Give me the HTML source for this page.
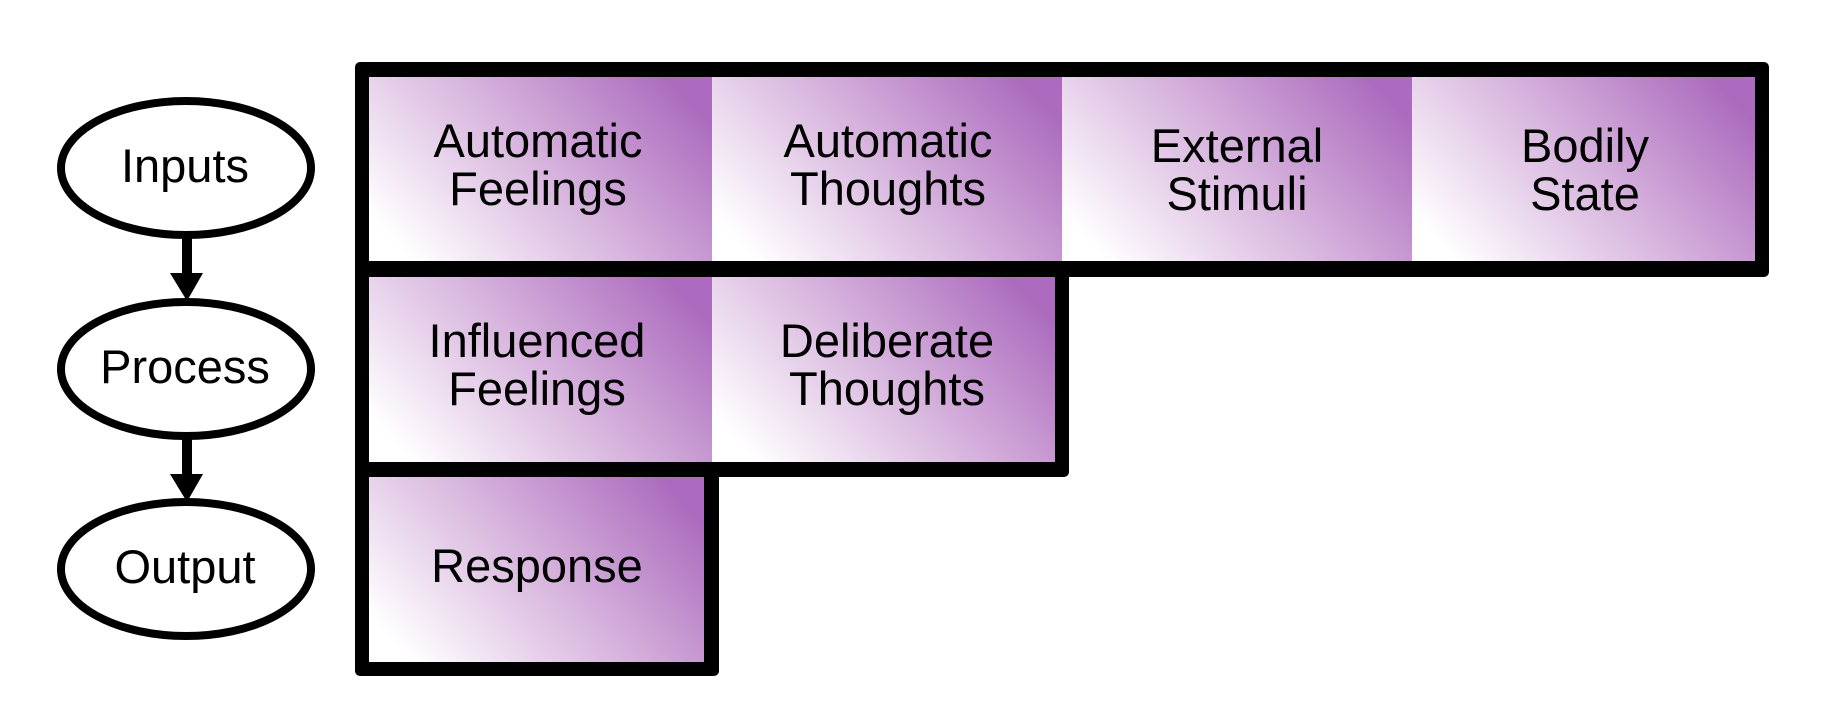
<!DOCTYPE html>
<html><head><meta charset="utf-8"><style>
html,body{margin:0;padding:0;background:#fff;}
svg{display:block;}
text{font-family:"Liberation Sans",Arial,sans-serif;font-size:47px;fill:#000;text-anchor:middle;}
</style></head><body>
<svg width="1830" height="728" viewBox="0 0 1830 728" xmlns="http://www.w3.org/2000/svg">
<defs>
<linearGradient id="g" x1="0" y1="0.75" x2="1" y2="0.25">
<stop offset="0" stop-color="#ffffff"/>
<stop offset="0.5" stop-color="#d8b6de"/>
<stop offset="1" stop-color="#ac6bbe"/>
</linearGradient>
</defs>
<rect x="355" y="62" width="1414" height="215" rx="5" fill="#000"/>
<rect x="355" y="261" width="714" height="216" rx="5" fill="#000"/>
<rect x="355" y="462" width="364" height="214" rx="5" fill="#000"/>
<rect x="369" y="77" width="343" height="184" fill="url(#g)"/>
<rect x="712" y="77" width="350" height="184" fill="url(#g)"/>
<rect x="1062" y="77" width="350" height="184" fill="url(#g)"/>
<rect x="1412" y="77" width="343" height="184" fill="url(#g)"/>
<rect x="369" y="277" width="343" height="185" fill="url(#g)"/>
<rect x="712" y="277" width="343" height="185" fill="url(#g)"/>
<rect x="369" y="477" width="335" height="185" fill="url(#g)"/>
<text x="538" y="157">Automatic</text><text x="538" y="205">Feelings</text>
<text x="888" y="157">Automatic</text><text x="888" y="205">Thoughts</text>
<text x="1237" y="162">External</text><text x="1237" y="210">Stimuli</text>
<text x="1585" y="162">Bodily</text><text x="1585" y="210">State</text>
<text x="537" y="357">Influenced</text><text x="537" y="405">Feelings</text>
<text x="887" y="357">Deliberate</text><text x="887" y="405">Thoughts</text>
<text x="537" y="582">Response</text>
<ellipse cx="186" cy="168" rx="125" ry="67" fill="#fff" stroke="#000" stroke-width="8"/>
<ellipse cx="186" cy="369" rx="125" ry="67" fill="#fff" stroke="#000" stroke-width="8"/>
<ellipse cx="186" cy="569" rx="125" ry="67" fill="#fff" stroke="#000" stroke-width="8"/>
<text x="185" y="182">Inputs</text>
<text x="185" y="383">Process</text>
<text x="185" y="583">Output</text>
<rect x="182" y="238" width="10" height="38" fill="#000"/>
<polygon points="170,273 203,273 187,301" fill="#000"/>
<rect x="182" y="439" width="10" height="38" fill="#000"/>
<polygon points="170,474 203,474 187,502" fill="#000"/>
</svg>
</body></html>
